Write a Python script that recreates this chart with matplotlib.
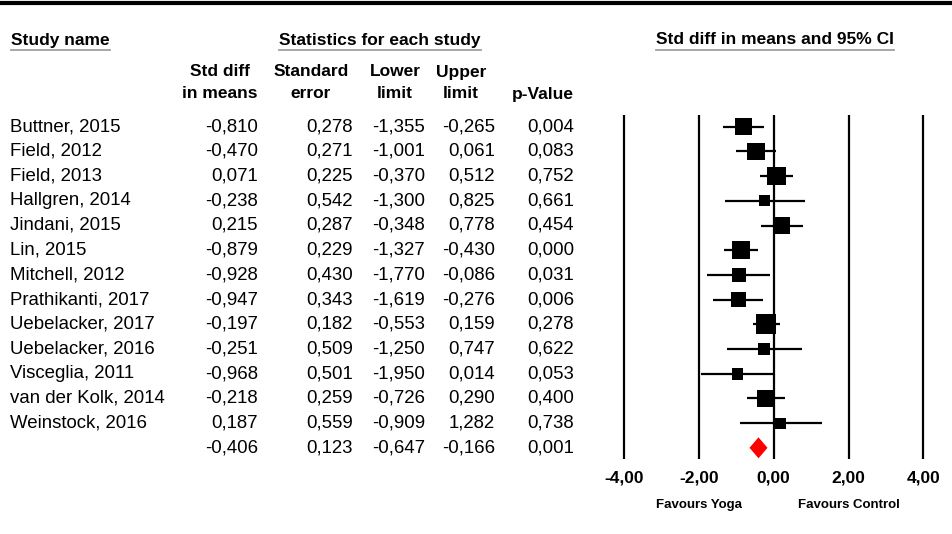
import numpy as np
import matplotlib
matplotlib.use("Agg")
import matplotlib.pyplot as plt
import matplotlib.transforms as mtransforms
from matplotlib.patches import Polygon

plt.rcParams['font.family'] = ['Liberation Sans', 'DejaVu Sans']

# data
studies = ["Buttner, 2015", "Field, 2012", "Field, 2013", "Hallgren, 2014",
           "Jindani, 2015", "Lin, 2015", "Mitchell, 2012", "Prathikanti, 2017",
           "Uebelacker, 2017", "Uebelacker, 2016", "Visceglia, 2011",
           "van der Kolk, 2014", "Weinstock, 2016"]
std_diff = [-0.810, -0.470, 0.071, -0.238, 0.215, -0.879, -0.928, -0.947,
            -0.197, -0.251, -0.968, -0.218, 0.187]
std_err = [0.278, 0.271, 0.225, 0.542, 0.287, 0.229, 0.430, 0.343,
           0.182, 0.509, 0.501, 0.259, 0.559]
lower = [-1.355, -1.001, -0.370, -1.300, -0.348, -1.327, -1.770, -1.619,
         -0.553, -1.250, -1.950, -0.726, -0.909]
upper = [-0.265, 0.061, 0.512, 0.825, 0.778, -0.430, -0.086, -0.276,
         0.159, 0.747, 0.014, 0.290, 1.282]
p_value = [0.004, 0.083, 0.752, 0.661, 0.454, 0.000, 0.031, 0.006,
           0.278, 0.622, 0.053, 0.400, 0.738]
# pooled (random effects) row
pooled = {"d": -0.406, "se": 0.123, "lo": -0.647, "hi": -0.166, "p": 0.001}

head_top = ["Std diff", "Standard", "Lower", "Upper", ""]
head_bottom = ["in means", "error", "limit", "limit", "p-Value"]
tick_vals = [-4, -2, 0, 2, 4]
tick_labels = ["-4,00", "-2,00", "0,00", "2,00", "4,00"]
favours = ["Favours Yoga", "Favours Control"]

W, H = 952, 534
fig = plt.figure(figsize=(W / 100, H / 100), dpi=100)

# table layer in pixel units
ax_tab = fig.add_axes([0, 0, 1, 1])
ax_tab.set_xlim(0, W)
ax_tab.set_ylim(H, 0)
ax_tab.axis('off')

# forest layer, rows as y units
row0, drow = 126.7, 24.7
ytop, ybot = 115, 459
px_per_unit = 37.41
x0_px = 773.7
ax = fig.add_axes([600 / W, (H - ybot) / H, (W - 600) / W, (ybot - ytop) / H])
ax.set_xlim(-(x0_px - 600) / px_per_unit, (W - x0_px) / px_per_unit)
ax.set_ylim((ybot - row0) / drow, (ytop - row0) / drow)
for s in ax.spines.values():
    s.set_visible(False)
ax.set_yticks([])
ax.set_xticks(tick_vals)
ax.set_xticklabels(tick_labels, fontsize=12.5, fontweight='bold')
ax.tick_params(axis='x', length=0, pad=8)
ax.patch.set_alpha(0)

for v in tick_vals:
    ax.axvline(v, color='black', lw=1.6, zorder=1)

n = len(studies)
rows = np.arange(n)
d = np.array(std_diff)
se = np.array(std_err)

# random effects weights (DerSimonian-Laird) for box sizes
wf = 1 / se ** 2
mean_f = np.sum(wf * d) / np.sum(wf)
Q = np.sum(wf * (d - mean_f) ** 2)
C = np.sum(wf) - np.sum(wf ** 2) / np.sum(wf)
tau2 = max(0.0, (Q - (n - 1)) / C)
w = 1 / (se ** 2 + tau2)
side_px = 20 * np.sqrt(w / w.max())
sizes = (side_px * 0.72) ** 2

ax.hlines(rows, lower, upper, color='black', lw=1.6, zorder=2)
ax.scatter(d, rows, marker='s', s=sizes, color='black', linewidths=0, zorder=3)

# pooled diamond
half_h = 10.5 / drow
yp = n
diamond = Polygon([[pooled["lo"], yp], [pooled["d"], yp - half_h],
                   [pooled["hi"], yp], [pooled["d"], yp + half_h]],
                  closed=True, facecolor='#ff0000', edgecolor='none', zorder=3)
ax.add_patch(diamond)

# favours labels
for xv, lab in zip([-2, 2], favours):
    ax.text(xv, -0.135, lab, transform=ax.get_xaxis_transform(), ha='center',
            va='center', fontsize=9.5, fontweight='bold')

# rows of the table: x in pixels, y in forest rows
tr = mtransforms.blended_transform_factory(ax_tab.transData, ax.transData)
col_right = [258, 353, 425, 495, 574]
fmt = lambda v: f"{v:.3f}".replace('.', ',')
fs_body = 13.4

for i, name in enumerate(studies):
    ax_tab.text(10, i, name, transform=tr, ha='left', va='center', fontsize=fs_body)
    vals = [std_diff[i], std_err[i], lower[i], upper[i], p_value[i]]
    for xr, v in zip(col_right, vals):
        ax_tab.text(xr, i, fmt(v), transform=tr, ha='right', va='center', fontsize=fs_body)
for xr, v in zip(col_right, [pooled["d"], pooled["se"], pooled["lo"], pooled["hi"], pooled["p"]]):
    ax_tab.text(xr, n, fmt(v), transform=tr, ha='right', va='center', fontsize=fs_body)

# headers
head_x = [220, 311, 395, 461, 543]
for xc, t1, t2 in zip(head_x, head_top, head_bottom):
    if t1:
        ax_tab.text(xc, 72, t1, ha='center', va='center', fontsize=12.5, fontweight='bold')
    ax_tab.text(xc, 94, t2, ha='center', va='center', fontsize=12.5, fontweight='bold')

groups = [(11, "Study name", 'left'), (380, "Statistics for each study", 'center'),
          (775, "Std diff in means and 95% CI", 'center')]
gtexts = []
for xg, lab, ha in groups:
    gtexts.append(ax_tab.text(xg, 40, lab, ha=ha, va='center', fontsize=12.5,
                              fontweight='bold'))

# top rule
ax_tab.axhline(3, color='black', lw=3)

# underline group headers
fig.canvas.draw()
inv = ax_tab.transData.inverted()
for t in gtexts:
    bb = t.get_window_extent()
    (xa, _), (xb, _) = inv.transform([[bb.x0, bb.y0], [bb.x1, bb.y0]])
    ax_tab.plot([xa, xb], [50, 50], color='#a0a0a0', lw=1.3)

fig.savefig("out.png", dpi=100)
